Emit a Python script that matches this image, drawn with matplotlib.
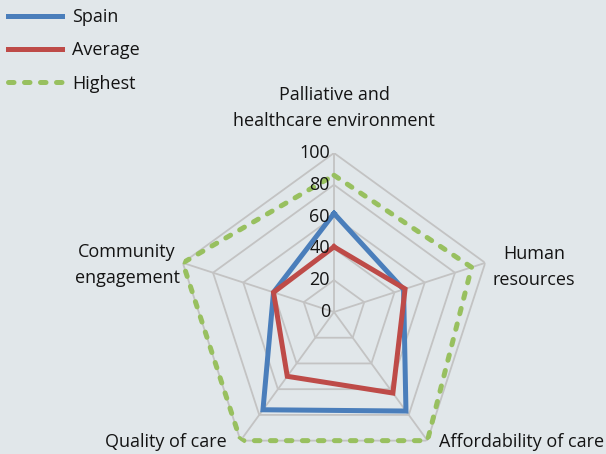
import numpy as np
import matplotlib.pyplot as plt

plt.rcParams['font.family'] = ['Open Sans', 'DejaVu Sans']

categories = ['Palliative and\nhealthcare environment', 'Human\nresources',
              'Affordability of care', 'Quality of care', 'Community\nengagement']
spain = [62, 46, 77, 76, 40]
average = [41, 47, 63, 50, 40]
highest = [86, 91, 100, 100, 100]
ticks = [0, 20, 40, 60, 80, 100]

bg = '#e1e7ea'
W, H = 606, 454
fig = plt.figure(figsize=(W / 100, H / 100), dpi=100, facecolor=bg)

cx, cy, R = 334, 312, 159
ax = fig.add_axes([(cx - R) / W, (H - cy - R) / H, 2 * R / W, 2 * R / H], projection='polar')
ax.set_facecolor('none')
ax.set_theta_zero_location('N')
ax.set_theta_direction(-1)
ax.set_ylim(0, 100)
ax.axis('off')

n = len(categories)
ang = np.linspace(0, 2 * np.pi, n, endpoint=False)
ang_c = np.append(ang, ang[0])

# web grid
for t in ticks[1:]:
    ax.plot(ang_c, [t] * (n + 1), color='#c3c3c3', lw=1.3, zorder=1)
for a in ang:
    ax.plot([a, a], [0, 100], color='#c3c3c3', lw=1.3, zorder=1)

def closed(v):
    return v + v[:1]

ax.plot(ang_c, closed(highest), color='#98c05f', lw=3.6, linestyle=(0, (1.1, 2.1)),
        dash_capstyle='round', label='Highest', zorder=3)
ax.plot(ang_c, closed(spain), color='#4a7ebb', lw=3.6, label='Spain', zorder=4,
        solid_joinstyle='miter')
ax.plot(ang_c, closed(average), color='#be4b48', lw=3.6, label='Average', zorder=5,
        solid_joinstyle='miter')

fs = 13
for t in ticks:
    fig.text((cx - 4) / W, (H - (cy - t / 100 * R)) / H, str(t), ha='right', va='center',
             fontsize=fs, color='#141414')

def px(x, y):
    return x / W, 1 - y / H

label_pos = [(334, 108), (534, 267), (522, 442), (166, 442), (127, 265)]
for lab, (x, y) in zip(categories, label_pos):
    fig.text(*px(x, y), lab, ha='center', va='center', fontsize=fs, color='#141414',
             linespacing=1.55)

h = ax.get_legend_handles_labels()
order = [1, 2, 0]
fig.legend([h[0][i] for i in order], [h[1][i] for i in order], loc='upper left',
           bbox_to_anchor=px(8, 8), frameon=False, fontsize=fs, handlelength=3.0,
           labelspacing=0.85, handletextpad=0.55, borderpad=0, borderaxespad=0,
           labelcolor='#141414')

fig.savefig('out.png', dpi=100, facecolor=bg)
